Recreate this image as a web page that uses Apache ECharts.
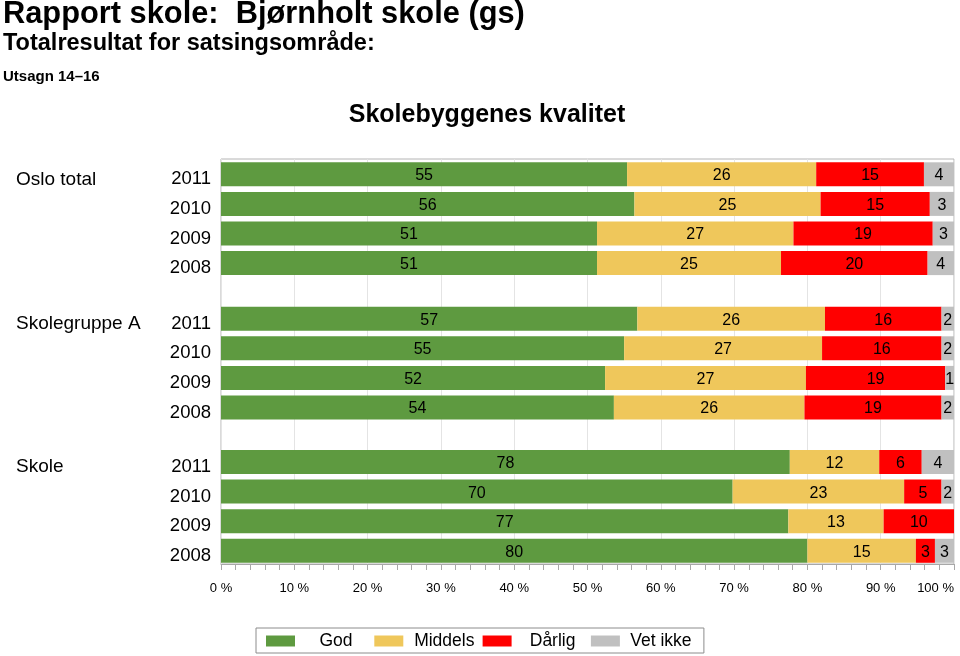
<!DOCTYPE html>
<html>
<head>
<meta charset="utf-8">
<script src="https://cdn.jsdelivr.net/npm/echarts@6/dist/echarts.min.js"></script>
<style>
html,body{margin:0;padding:0;background:#fff;}
#c{width:960px;height:656px;}
</style>
</head>
<body>
<div id="c"></div>
<script>
// ---- data ----
const years = ['2011', '2010', '2009', '2008'];
const groups = ['Oslo total', 'Skolegruppe A', 'Skole'];
const seriesNames = ['God', 'Middels', 'Dårlig', 'Vet ikke'];
const xTicks = [0, 10, 20, 30, 40, 50, 60, 70, 80, 90, 100];

const osloGod = [55.4, 56.4, 51.3, 51.3];
const osloMiddels = [25.8, 25.4, 26.8, 25.1];
const osloDarlig = [14.7, 14.9, 19.0, 20.0];
const osloVetIkke = [4.1, 3.3, 2.9, 3.6];

const gruppeGod = [56.8, 55.0, 52.4, 53.6];
const gruppeMiddels = [25.6, 27.0, 27.4, 26.0];
const gruppeDarlig = [15.9, 16.3, 19.0, 18.7];
const gruppeVetIkke = [1.7, 1.7, 1.2, 1.7];

const skoleGod = [77.6, 69.8, 77.4, 80.0];
const skoleMiddels = [12.2, 23.4, 13.0, 14.8];
const skoleDarlig = [5.8, 5.1, 9.6, 2.6];
const skoleVetIkke = [4.4, 1.7, 0, 2.6];

const groupData = [
  [osloGod, osloMiddels, osloDarlig, osloVetIkke],
  [gruppeGod, gruppeMiddels, gruppeDarlig, gruppeVetIkke],
  [skoleGod, skoleMiddels, skoleDarlig, skoleVetIkke]
];

// ---- styling ----
const FONT = "'Liberation Sans', Arial, Helvetica, sans-serif";
const colors = ['#5e9a40', '#efc75b', '#ff0000', '#c0c0c0'];
const L = 221, R = 6;
const gridTops = [159.5, 303.9, 447.2];
const bandH = 118.4;

const grids = [{ left: L, right: R, top: 159, bottom: 92, show: true, borderColor: '#b4b4b4', borderWidth: 1, backgroundColor: 'transparent' }];
const xAxes = [{
  gridIndex: 0, type: 'value', min: xTicks[0], max: xTicks[xTicks.length - 1], interval: 10,
  axisLine: { show: true, lineStyle: { color: '#a8a8a8' } },
  axisTick: { show: true, length: 6, lineStyle: { color: '#a8a8a8' } },
  minorTick: { show: true, splitNumber: 5, length: 6, lineStyle: { color: '#a8a8a8' } },
  splitLine: { show: true, lineStyle: { color: '#e4e4e4' } },
  axisLabel: { formatter: v => v + ' %', fontSize: 13, color: '#000', fontFamily: FONT, margin: 18, alignMaxLabel: 'right' }
}];
const yAxes = [{ gridIndex: 0, type: 'value', show: false, min: 0, max: 1 }];
const series = [];

groupData.forEach((gd, gi) => {
  const idx = gi + 1;
  grids.push({ left: L, right: R, top: gridTops[gi], height: bandH });
  xAxes.push({ gridIndex: idx, type: 'value', min: 0, max: 100, show: false });
  yAxes.push({
    gridIndex: idx, type: 'category', data: years, inverse: true,
    axisLine: { show: false }, axisTick: { show: false }, splitLine: { show: false },
    axisLabel: {
      color: '#000', margin: 10,
      formatter: v => '{y|' + v + '}',
      rich: { y: { fontSize: 18.5, color: '#000', fontFamily: FONT, padding: [10, 0, 0, 0] } }
    }
  });
  gd.forEach((vals, si) => {
    series.push({
      name: seriesNames[si], type: 'bar', stack: 'g' + idx,
      xAxisIndex: idx, yAxisIndex: idx, barWidth: 24,
      itemStyle: { color: colors[si] },
      label: {
        show: true, position: 'inside', color: '#000', fontSize: 16, fontFamily: FONT, offset: [0, 1.5],
        formatter: p => (p.value > 0 ? String(Math.round(p.value)) : '')
      },
      data: vals
    });
  });
});

const rowCenters = gridTops.map(t => t + bandH / 8 + 5);
const graphics = [
  { type: 'text', style: { text: 'Rapport skole:  Bjørnholt skole (gs)', x: 3, y: 15, fill: '#000', font: 'bold 30.8px ' + FONT, verticalAlign: 'middle' } },
  { type: 'text', style: { text: 'Totalresultat for satsingsområde:', x: 3, y: 44, fill: '#000', font: 'bold 23.5px ' + FONT, verticalAlign: 'middle' } },
  { type: 'text', style: { text: 'Utsagn 14–16', x: 3, y: 77, fill: '#000', font: 'bold 15px ' + FONT, verticalAlign: 'middle' } },
  { type: 'text', style: { text: 'Skolebyggenes kvalitet', x: 487, y: 115.5, fill: '#000', font: 'bold 25px ' + FONT, align: 'center', verticalAlign: 'middle' } }
];
groups.forEach((g, i) => {
  graphics.push({ type: 'text', style: { text: g, x: 16, y: rowCenters[i], fill: '#000', font: '19px ' + FONT, verticalAlign: 'middle' } });
});

const chart = echarts.init(document.getElementById('c'), null, { renderer: 'canvas' });
chart.setOption({
  animation: false,
  backgroundColor: '#fff',
  grid: grids,
  xAxis: xAxes,
  yAxis: yAxes,
  legend: {
    data: seriesNames, left: 256, top: 628, orient: 'horizontal',
    icon: 'rect', itemWidth: 29, itemHeight: 11, itemGap: 2.3,
    padding: [4, 7, 3, 10], borderColor: '#8c8c8c', borderWidth: 1,
    formatter: n => '{t|' + n + '}',
    textStyle: { rich: { t: { width: 72, height: 12, align: 'center', fontSize: 17.5, color: '#000', fontFamily: FONT, lineHeight: 12 } } }
  },
  graphic: graphics,
  series: series
});
</script>
</body>
</html>
